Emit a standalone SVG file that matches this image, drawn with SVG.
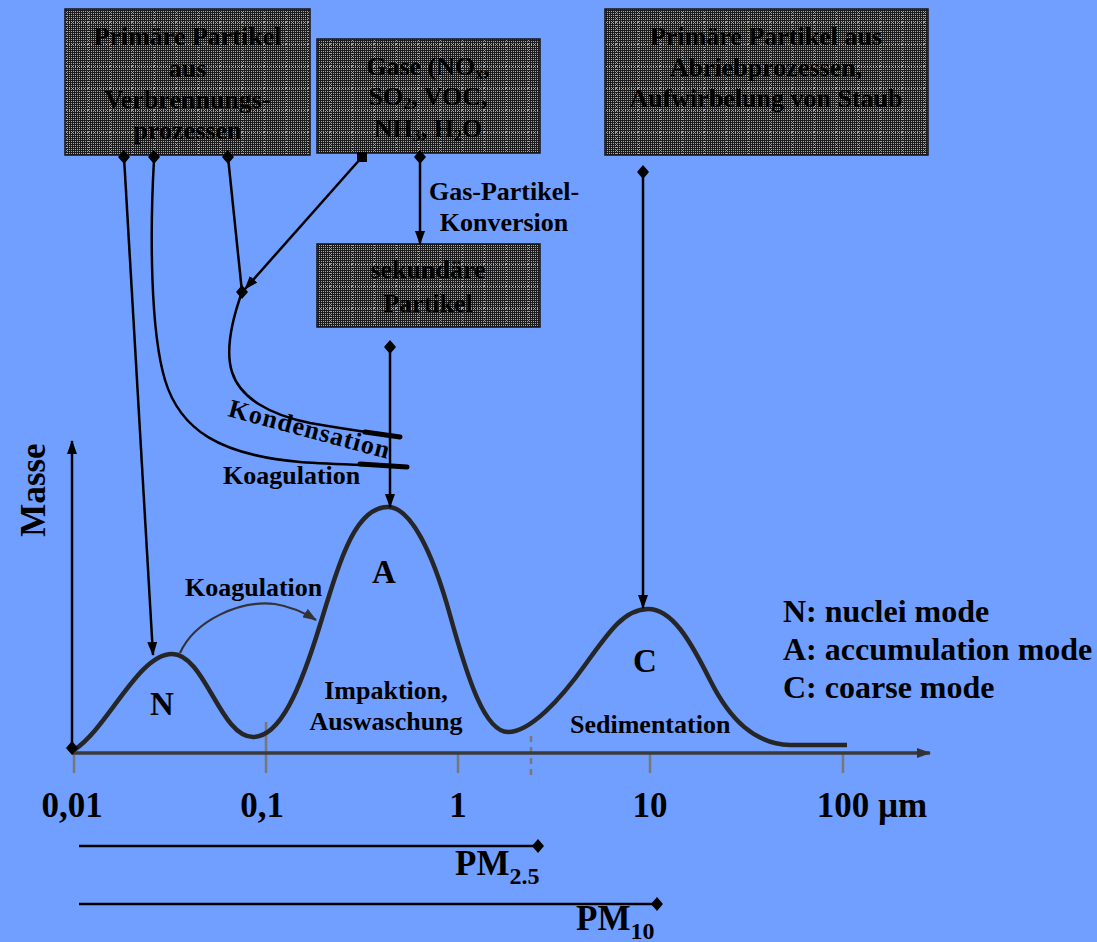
<svg xmlns="http://www.w3.org/2000/svg" width="1097" height="942" viewBox="0 0 1097 942">
<defs>
<pattern id="grid" width="2" height="2" patternUnits="userSpaceOnUse">
<rect width="2" height="2" fill="#1c1c1c"/>
<rect x="1" y="1" width="1" height="1" fill="#a8a8a8"/>
</pattern>
<pattern id="grid2" width="22" height="22" patternUnits="userSpaceOnUse">
<path d="M0,0.5 H22 M0.5,0 V22" stroke="#9a9a9a" stroke-width="1" stroke-dasharray="1 2" fill="none"/>
</pattern>
<marker id="ah" viewBox="0 0 14 10" refX="13" refY="5" markerWidth="14" markerHeight="10" markerUnits="userSpaceOnUse" orient="auto">
<path d="M0,0 L14,5 L0,10 z" fill="#000"/>
</marker>
<marker id="ahg" viewBox="0 0 14 10" refX="13" refY="5" markerWidth="14" markerHeight="10" markerUnits="userSpaceOnUse" orient="auto">
<path d="M0,0 L14,5 L0,10 z" fill="#333"/>
</marker>
<path id="dia" d="M0,-7 L6,0 L0,7 L-6,0 z" fill="#000"/>
</defs>
<style>
.box{fill:url(#grid);stroke:#151515;stroke-width:1.5}
.ov{fill:url(#grid2);stroke:none}
.bt{font-family:"Liberation Serif","Times New Roman",serif;font-weight:bold;font-size:26px;fill:#000;text-anchor:middle}
.sub{font-size:16px}
.lb{font-family:"Liberation Serif","Times New Roman",serif;font-weight:bold;font-size:26px;fill:#000}
.mid{text-anchor:middle}
.big{font-size:33px}
.lg{font-family:"Liberation Serif","Times New Roman",serif;font-weight:bold;font-size:32px;fill:#000}
.ax{font-family:"Liberation Serif","Times New Roman",serif;font-weight:bold;font-size:35px;fill:#000;text-anchor:middle}
.pm{font-family:"Liberation Serif","Times New Roman",serif;font-weight:bold;font-size:35px;fill:#000}
.pms{font-size:24px}
.ln{stroke:#000;stroke-width:2.5;fill:none}
.tk{stroke:#777;stroke-width:2.5}
</style>
<rect width="1097" height="942" fill="#709FFF"/>

<g id="box-verbrennung">
<rect class="box" x="65" y="9" width="245" height="146"/>
<rect class="ov" x="66" y="10" width="243" height="144"/>
<text class="bt" x="187.5" y="45">Primäre Partikel</text>
<text class="bt" x="187.5" y="77">aus</text>
<text class="bt" x="187.5" y="108">Verbrennungs-</text>
<text class="bt" x="187.5" y="139">prozessen</text>
</g>

<g id="box-gase">
<rect class="box" x="317" y="39" width="223" height="114"/>
<rect class="ov" x="318" y="40" width="221" height="112"/>
<text class="bt" x="428" y="75">Gase (NO<tspan class="sub" dy="4">x</tspan><tspan dy="-4">,</tspan></text>
<text class="bt" x="428" y="105">SO<tspan class="sub" dy="4">2</tspan><tspan dy="-4">, VOC,</tspan></text>
<text class="bt" x="428" y="137">NH<tspan class="sub" dy="4">3</tspan><tspan dy="-4">, H</tspan><tspan class="sub" dy="4">2</tspan><tspan dy="-4">O</tspan></text>
</g>

<g id="box-abrieb">
<rect class="box" x="605" y="9" width="323" height="146"/>
<rect class="ov" x="606" y="10" width="321" height="144"/>
<text class="bt" x="766" y="45">Primäre Partikel aus</text>
<text class="bt" x="766" y="76">Abriebprozessen,</text>
<text class="bt" x="766" y="107">Aufwirbelung von Staub</text>
</g>

<g id="box-sekundaer">
<rect class="box" x="317" y="244" width="223" height="83"/>
<rect class="ov" x="318" y="245" width="221" height="81"/>
<text class="bt" x="428" y="278">sekundäre</text>
<text class="bt" x="428" y="312">Partikel</text>
</g>

<g id="axes">
<line class="tk" x1="74" y1="752" x2="74" y2="773"/>
<line class="tk" x1="266" y1="722" x2="266" y2="773"/>
<line class="tk" x1="458" y1="752" x2="458" y2="773"/>
<line class="tk" x1="650" y1="752" x2="650" y2="773"/>
<line class="tk" x1="843" y1="752" x2="843" y2="773"/>
<line class="tk" x1="531" y1="736" x2="531" y2="776" stroke-dasharray="6 5"/>
<line x1="72" y1="753" x2="930" y2="753" stroke="#3a3a3a" stroke-width="3.5" marker-end="url(#ahg)"/>
<line x1="72" y1="748" x2="72" y2="441" stroke="#000" stroke-width="2.5" marker-end="url(#ah)"/>
<text class="ax" x="72" y="817">0,01</text>
<text class="ax" x="262" y="817">0,1</text>
<text class="ax" x="458" y="817">1</text>
<text class="ax" x="650" y="817">10</text>
<text class="ax" x="872" y="817">100 µm</text>
<text class="ax" transform="translate(45,490) rotate(-90)" x="0" y="0">Masse</text>
</g>

<g id="distribution">
<path d="M74,750 C108,728 138,654 172,654 C205,654 220,737 253,737 C280,737 300,690 320,625 C340,560 355,507 388,507 C410,507 432,550 450,615 C468,680 485,732 508,732 C530,732 560,700 585,665 C610,630 625,609 648,609 C672,609 690,640 710,680 C730,720 755,744 790,745 L847,745" fill="none" stroke="#262626" stroke-width="4.5" stroke-linejoin="round"/>
<text class="lb mid big" x="162" y="715">N</text>
<text class="lb mid big" x="384" y="583">A</text>
<text class="lb mid big" x="645" y="672">C</text>
<text class="lb mid" x="386" y="699">Impaktion,</text>
<text class="lb mid" x="386" y="730">Auswaschung</text>
<text class="lb" x="570" y="733">Sedimentation</text>
<text class="lb" x="185" y="596">Koagulation</text>
</g>

<g id="legend">
<text class="lg" x="783" y="622">N: nuclei mode</text>
<text class="lg" x="783" y="660">A: accumulation mode</text>
<text class="lg" x="783" y="698">C: coarse mode</text>
</g>

<g id="pm">
<line class="ln" x1="79" y1="846" x2="536" y2="846" stroke-width="3"/>
<use href="#dia" x="538" y="846"/>
<text class="pm" x="455" y="875">PM<tspan class="pms" dy="9">2.5</tspan></text>
<line class="ln" x1="79" y1="904" x2="655" y2="904" stroke-width="3"/>
<use href="#dia" x="657" y="904"/>
<text class="pm" x="576" y="930">PM<tspan class="pms" dy="9">10</tspan></text>
</g>

<g id="connectors">
<line class="ln" x1="124" y1="157" x2="153" y2="655" marker-end="url(#ah)"/>
<path class="ln" d="M154,160 C150,230 150,330 165,380 C180,430 220,455 300,462 C340,465 380,465 407,467" stroke-width="3"/>
<path d="M360,464 L407,467" stroke="#000" stroke-width="5" stroke-linecap="round"/>
<line class="ln" x1="228" y1="157" x2="242" y2="292"/>
<line class="ln" x1="362" y1="157" x2="245" y2="289" marker-end="url(#ah)"/>
<path class="ln" d="M242,292 C232,320 225,350 232,372 C240,398 270,415 310,423 C350,430 380,434 400,437" stroke-width="3"/>
<path d="M365,432 L400,437" stroke="#000" stroke-width="5" stroke-linecap="round"/>
<line class="ln" x1="420" y1="157" x2="420" y2="244" marker-end="url(#ah)"/>
<line class="ln" x1="390" y1="347" x2="390" y2="507" marker-end="url(#ah)"/>
<line class="ln" x1="643" y1="172" x2="643" y2="608" marker-end="url(#ah)"/>
<path d="M180,653 C195,620 240,600 275,604 C293,607 305,613 316,620" fill="none" stroke="#333" stroke-width="2.2" marker-end="url(#ahg)"/>
<use href="#dia" x="124" y="157"/>
<use href="#dia" x="154" y="157"/>
<use href="#dia" x="228" y="157"/>
<use href="#dia" x="420" y="157"/>
<use href="#dia" x="643" y="172"/>
<use href="#dia" x="390" y="347"/>
<use href="#dia" x="242" y="292"/>
<use href="#dia" x="72" y="748"/>
<rect x="357" y="152" width="10" height="10" fill="#000"/>
<text class="lb mid" x="504" y="200">Gas-Partikel-</text>
<text class="lb mid" x="504" y="231">Konversion</text>
<text class="lb" transform="translate(227,416) rotate(15)" x="0" y="0" letter-spacing="1">Kondensation</text>
<text class="lb" x="223" y="484">Koagulation</text>
</g>
</svg>
